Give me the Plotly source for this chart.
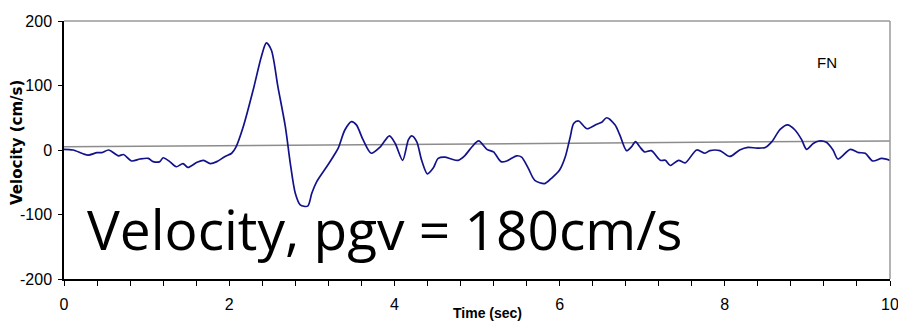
import plotly.graph_objects as go

# Velocity trace (time in s, velocity in cm/s)
time_s = [0.00, 0.11, 0.29, 0.40, 0.46, 0.54, 0.66, 0.72, 0.82, 0.92, 1.02, 1.08, 1.16, 1.20,
          1.28, 1.36, 1.44, 1.50, 1.61, 1.69, 1.77, 1.85, 1.95, 2.03, 2.08, 2.17, 2.29, 2.39,
          2.45, 2.51, 2.59, 2.68, 2.74, 2.80, 2.86, 2.95, 3.00, 3.06, 3.18, 3.26, 3.32, 3.40,
          3.48, 3.54, 3.62, 3.72, 3.83, 3.94, 4.01, 4.10, 4.17, 4.21, 4.27, 4.33, 4.40, 4.47,
          4.53, 4.61, 4.69, 4.77, 4.85, 4.94, 5.02, 5.12, 5.20, 5.29, 5.36, 5.48, 5.54, 5.62,
          5.70, 5.82, 5.90, 6.00, 6.07, 6.13, 6.17, 6.23, 6.33, 6.45, 6.51, 6.57, 6.67, 6.73,
          6.81, 6.87, 6.92, 6.97, 7.03, 7.11, 7.22, 7.28, 7.34, 7.44, 7.52, 7.66, 7.76, 7.82,
          7.94, 8.06, 8.18, 8.28, 8.39, 8.49, 8.57, 8.67, 8.76, 8.85, 8.93, 8.99, 9.07, 9.14,
          9.23, 9.31, 9.37, 9.52, 9.62, 9.70, 9.79, 9.90, 10.00]
velocity = [1, 0, -8, -4, -4, 0, -9, -7, -17, -14, -13, -18, -18, -12,
            -18, -26, -21, -27, -19, -16, -21, -18, -10, -5, 4, 36, 93, 145,
            166, 155, 98, 36, -21, -67, -85, -87, -67, -49, -26, -10, 3, 31,
            44, 39, 16, -5, 5, 22, 10, -16, 16, 22, 13, -16, -37, -28,
            -13, -11, -14, -16, -9, 5, 14, 1, -3, -18, -17, -9, -11, -28,
            -47, -52, -44, -31, -10, 21, 41, 45, 33, 40, 43, 50, 39, 23,
            -1, 5, 13, 5, -3, -1, -16, -16, -24, -16, -20, 0, -5, -1,
            -1, -10, 0, 4, 3, 4, 13, 32, 39, 31, 16, 1, 10, 14,
            12, 0, -14, 1, -4, -5, -17, -13, -16]

# Gray reference (trend) line
trend_t = [0, 10]
trend_v = [5, 14]

x_tick_vals = [0, 2, 4, 6, 8, 10]
x_tick_text = ["0", "2", "4", "6", "8", "10"]
y_tick_vals = [-200, -100, 0, 100, 200]
y_tick_text = ["-200", "-100", "0", "100", "200"]

fig = go.Figure()
fig.add_trace(go.Scatter(x=trend_t, y=trend_v, mode="lines",
                         line=dict(color="#8c8c8c", width=1.5), hoverinfo="skip"))
fig.add_trace(go.Scatter(x=time_s, y=velocity, mode="lines",
                         line=dict(color="#12128a", width=1.7, shape="spline", smoothing=0.8)))

tickfont = "Liberation Sans, Arial, sans-serif"

fig.update_layout(
    width=898, height=322,
    margin=dict(l=64, r=8, t=21, b=43),
    paper_bgcolor="white", plot_bgcolor="white",
    showlegend=False,
    xaxis=dict(range=[0, 10], tickvals=x_tick_vals, ticktext=x_tick_text,
               ticks="outside", ticklen=5, ticklabelstandoff=5, ticklabeloverflow="allow",
               tickcolor="black", showline=True, linecolor="black", linewidth=2,
               showgrid=False, zeroline=False, automargin=False,
               minor=dict(dtick=0.4, tick0=0, ticks="outside", ticklen=5, tickcolor="black", showgrid=False),
               tickfont=dict(family=tickfont, size=16, color="black")),
    yaxis=dict(range=[-200, 200], tickvals=y_tick_vals, ticktext=y_tick_text,
               ticks="outside", ticklen=4, ticklabelstandoff=3, ticklabeloverflow="allow",
               tickcolor="black", showline=True, linecolor="black", linewidth=1.5,
               showgrid=False, zeroline=False, automargin=False,
               tickfont=dict(family=tickfont, size=16, color="black")),
    shapes=[
        dict(type="line", xref="paper", yref="paper", x0=0, x1=1, y0=1, y1=1,
             line=dict(color="#9a9a9a", width=1.5)),
        dict(type="line", xref="paper", yref="paper", x0=1, x1=1, y0=0, y1=1,
             line=dict(color="#9a9a9a", width=1.5)),
    ],
    annotations=[
        dict(text="Velocity, pgv = 180cm/s", x=0.26, y=-121, xref="x", yref="y",
             xanchor="left", yanchor="middle", showarrow=False,
             font=dict(family="Open Sans, sans-serif", size=55, color="black")),
        dict(text="FN", x=9.24, y=136, xref="x", yref="y", showarrow=False,
             font=dict(family=tickfont, size=15, color="black")),
        dict(text="<b>Time (sec)</b>", x=0.513, y=-0.132, xref="paper", yref="paper",
             xanchor="center", yanchor="middle", showarrow=False,
             font=dict(family=tickfont, size=14, color="black")),
        dict(text="<b>Velocity (cm/s)</b>", x=-0.057, y=0.531, xref="paper", yref="paper",
             xanchor="center", yanchor="middle", showarrow=False, textangle=-90,
             font=dict(family="DejaVu Sans, Arial", size=15, color="black")),
    ],
)

fig.write_html("out.html", config={"displayModeBar": False},
               post_script="document.body.style.margin='0';document.body.style.overflow='hidden';")
